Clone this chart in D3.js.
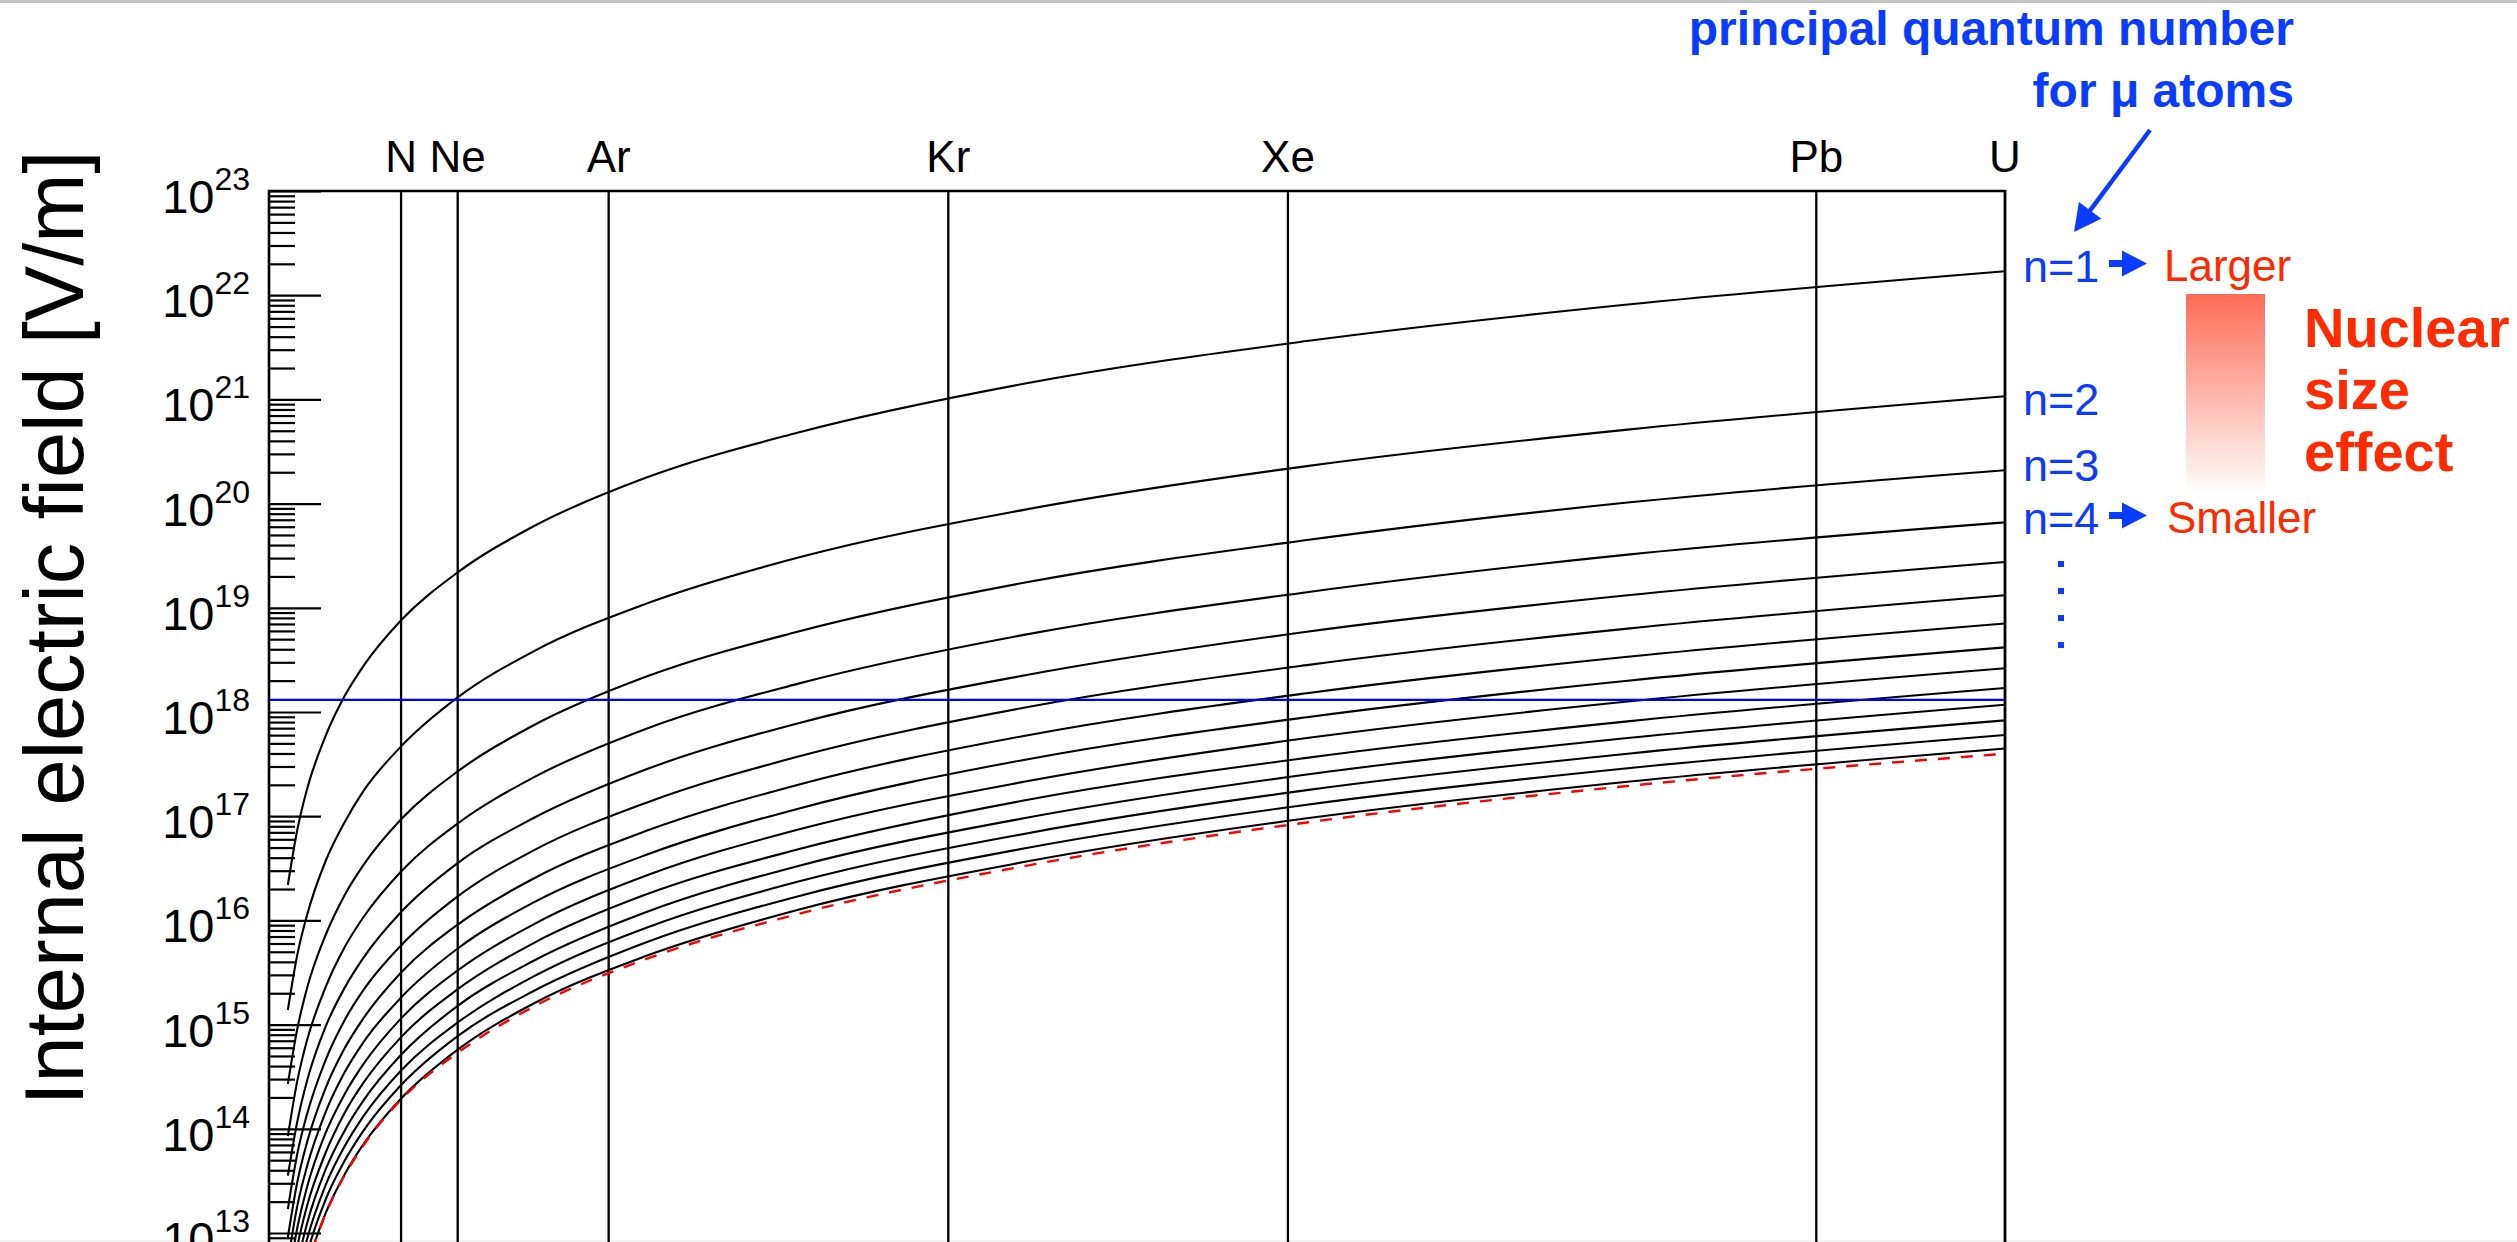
<!DOCTYPE html>
<html>
<head>
<meta charset="utf-8">
<script src="https://cdnjs.cloudflare.com/ajax/libs/d3/7.8.5/d3.min.js"></script>
<style>
  html, body { margin: 0; padding: 0; background: #fff; overflow: hidden; }
  svg { display: block; font-family: 'Liberation Sans', Arial, Helvetica, sans-serif; }
</style>
</head>
<body>
<svg id="chart" width="2517" height="1242"></svg>
<script>
// atomic number samples used for every curve
const zSamples = [1, 1.5, 2, 3, 4, 5, 7, 10, 14, 20, 28, 40, 55, 72, 92];

// log10 of the field [V/m], one row per principal quantum number
const quantumNumbers = [1, 2, 3, 4, 5, 6, 7, 8, 9, 10, 11, 12, 13, 14];
const fieldLog10 = [
  [16.34, 16.87, 17.25, 17.77, 18.15, 18.44, 18.88, 19.34, 19.78, 20.25, 20.68, 21.15, 21.56, 21.91, 22.23],
  [15.14, 15.67, 16.04, 16.57, 16.94, 17.24, 17.67, 18.14, 18.58, 19.04, 19.48, 19.94, 20.36, 20.71, 21.03],
  [14.43, 14.96, 15.34, 15.86, 16.24, 16.53, 16.97, 17.43, 17.87, 18.34, 18.77, 19.24, 19.65, 20.01, 20.32],
  [13.93, 14.46, 14.84, 15.36, 15.74, 16.03, 16.47, 16.93, 17.37, 17.84, 18.27, 18.74, 19.15, 19.51, 19.82],
  [13.55, 14.07, 14.45, 14.98, 15.35, 15.64, 16.08, 16.55, 16.98, 17.45, 17.89, 18.35, 18.77, 19.12, 19.44],
  [13.23, 13.76, 14.13, 14.66, 15.04, 15.33, 15.76, 16.23, 16.67, 17.13, 17.57, 18.04, 18.45, 18.80, 19.12],
  [12.96, 13.49, 13.86, 14.39, 14.77, 15.06, 15.50, 15.96, 16.40, 16.86, 17.30, 17.77, 18.18, 18.53, 18.85],
  [12.73, 13.26, 13.63, 14.16, 14.54, 14.83, 15.26, 15.73, 16.17, 16.63, 17.07, 17.54, 17.95, 18.30, 18.62],
  [12.52, 13.05, 13.43, 13.96, 14.33, 14.62, 15.06, 15.52, 15.96, 16.43, 16.87, 17.33, 17.75, 18.10, 18.42],
  [12.34, 12.87, 13.25, 13.77, 14.15, 14.44, 14.88, 15.34, 15.78, 16.25, 16.68, 17.15, 17.56, 17.91, 18.23],
  [12.18, 12.70, 13.08, 13.61, 13.98, 14.27, 14.71, 15.18, 15.61, 16.08, 16.52, 16.98, 17.40, 17.75, 18.07],
  [12.02, 12.55, 12.93, 13.46, 13.83, 14.12, 14.56, 15.02, 15.46, 15.93, 16.37, 16.83, 17.25, 17.60, 17.92],
  [11.89, 12.41, 12.79, 13.32, 13.69, 13.98, 14.42, 14.89, 15.32, 15.79, 16.23, 16.69, 17.11, 17.46, 17.78],
  [11.76, 12.29, 12.66, 13.19, 13.56, 13.85, 14.29, 14.76, 15.20, 15.66, 16.10, 16.56, 16.98, 17.33, 17.65]
];

// red dashed lower curve
const dashedLog10 = [11.76, 12.29, 12.66, 13.18, 13.55, 13.84, 14.28, 14.73, 15.17, 15.63, 16.06, 16.52, 16.94, 17.29, 17.60];

// blue horizontal reference line [V/m]
const referenceField = 1.31e18;

// element markers
const elementNames = ['N', 'Ne', 'Ar', 'Kr', 'Xe', 'Pb', 'U'];
const elementZ = [7, 10, 18, 36, 54, 82, 92];

// y axis decades
const yExponents = [13, 14, 15, 16, 17, 18, 19, 20, 21, 22, 23];

// right hand labels
const levelLabels = ['n=1', 'n=2', 'n=3', 'n=4'];
const effectLabels = ['Larger', 'Smaller'];
const noteLines = ['principal quantum number', 'for μ atoms'];
const effectTitle = ['Nuclear', 'size', 'effect'];

const BLUE = '#0a3cff';
const RED = '#ff2a00';

const svg = d3.select('#chart');

const plotLeft = 269;
const plotRight = 2005;
const plotTop = 191;
const decade = 104.2;

const x = d3.scaleLinear().domain([0, 92]).range([plotLeft, plotRight]);
const y = d3.scaleLog().domain([1e12, 1e23]).range([plotTop + 11 * decade, plotTop]);
const plotBottom = y.range()[0];

// thin grey strip along the top edge and a faint one at the bottom
svg.append('rect').attr('x', 0).attr('y', 0).attr('width', 2517).attr('height', 3).attr('fill', '#c4c4c4');
svg.append('rect').attr('x', 0).attr('y', 1240).attr('width', 2517).attr('height', 2).attr('fill', '#f3f3f3');

const defs = svg.append('defs');
defs.append('clipPath').attr('id', 'plot-clip')
  .append('rect')
  .attr('x', plotLeft)
  .attr('y', plotTop)
  .attr('width', plotRight - plotLeft)
  .attr('height', plotBottom - plotTop);

// minor + major ticks, drawn inwards
const minorValues = [];
for (let e = 12; e < 23; e++) {
  for (let m = 2; m <= 9; m++) minorValues.push(m * Math.pow(10, e));
}
const majorValues = yExponents.map(e => Math.pow(10, e)).concat([1e12]);

const tickStyle = (g) => {
  g.select('.domain').remove();
  g.selectAll('line').attr('stroke', '#000').attr('stroke-width', 2.2);
};

svg.append('g')
  .attr('transform', `translate(${plotLeft},0)`)
  .call(d3.axisLeft(y).tickValues(minorValues).tickSize(-26).tickFormat(''))
  .call(tickStyle);

svg.append('g')
  .attr('transform', `translate(${plotLeft},0)`)
  .call(d3.axisLeft(y).tickValues(majorValues).tickSize(-52).tickFormat(''))
  .call(tickStyle);

// tick labels 10^n
const tickLabels = svg.append('g').attr('class', 'ytick-labels');
yExponents.forEach((e) => {
  const t = tickLabels.append('text')
    .attr('x', 250)
    .attr('y', y(Math.pow(10, e)) + 22)
    .attr('text-anchor', 'end')
    .attr('fill', '#000');
  t.append('tspan').attr('font-size', 47).text('10');
  t.append('tspan').attr('font-size', 32).attr('dy', -23).text(e);
});

// axis title
svg.append('text')
  .attr('transform', 'translate(83,628) rotate(-90)')
  .attr('text-anchor', 'middle')
  .attr('font-size', 83)
  .attr('fill', '#000')
  .text('Internal electric field [V/m]');

// element vertical lines and labels
const elems = svg.append('g').attr('class', 'elements');
elementNames.forEach((name, i) => {
  const ex = x(elementZ[i]);
  elems.append('line')
    .attr('x1', ex).attr('x2', ex)
    .attr('y1', plotTop).attr('y2', plotBottom)
    .attr('stroke', '#000')
    .attr('stroke-width', 2.3);
  elems.append('text')
    .attr('x', ex)
    .attr('y', 172)
    .attr('text-anchor', 'middle')
    .attr('font-size', 44)
    .attr('fill', '#000')
    .text(name);
});

// curves
const line = d3.line()
  .x(d => x(d[0]))
  .y(d => y(Math.pow(10, d[1])))
  .curve(d3.curveMonotoneX);

const curves = svg.append('g').attr('clip-path', 'url(#plot-clip)');

curves.selectAll('path.level')
  .data(fieldLog10)
  .enter()
  .append('path')
  .attr('class', 'level')
  .attr('d', row => line(row.map((v, i) => [zSamples[i], v])))
  .attr('fill', 'none')
  .attr('stroke', '#000')
  .attr('stroke-width', 2.1);

curves.append('path')
  .attr('d', line(dashedLog10.map((v, i) => [zSamples[i], v])))
  .attr('fill', 'none')
  .attr('stroke', '#ff0000')
  .attr('stroke-width', 2.4)
  .attr('stroke-dasharray', '12 11');

curves.append('line')
  .attr('x1', plotLeft).attr('x2', plotRight)
  .attr('y1', y(referenceField)).attr('y2', y(referenceField))
  .attr('stroke', '#0000ff')
  .attr('stroke-width', 2.3);

// frame (bottom edge is outside the picture)
svg.append('path')
  .attr('d', `M${plotLeft},${plotBottom}V${plotTop}H${plotRight}V${plotBottom}`)
  .attr('fill', 'none')
  .attr('stroke', '#000')
  .attr('stroke-width', 2.6);

// ---- annotations on the right ----
const notes = svg.append('g').attr('class', 'notes');

notes.selectAll('text.note')
  .data(noteLines)
  .enter()
  .append('text')
  .attr('class', 'note')
  .attr('x', 2294)
  .attr('y', (d, i) => 45 + i * 62)
  .attr('text-anchor', 'end')
  .attr('font-size', 48)
  .attr('font-weight', 'bold')
  .attr('fill', BLUE)
  .text(d => d);

// diagonal pointer towards n=1
const tip = [2074, 232];
const tail = [2150, 130];
const len = Math.hypot(tip[0] - tail[0], tip[1] - tail[1]);
const ux = (tip[0] - tail[0]) / len;
const uy = (tip[1] - tail[1]) / len;
const headLen = 27;
const headHalf = 14;
const base = [tip[0] - headLen * ux, tip[1] - headLen * uy];
notes.append('line')
  .attr('x1', tail[0]).attr('y1', tail[1])
  .attr('x2', base[0] + 4 * ux).attr('y2', base[1] + 4 * uy)
  .attr('stroke', BLUE)
  .attr('stroke-width', 4.5);
notes.append('polygon')
  .attr('points', [
    tip,
    [base[0] - headHalf * uy, base[1] + headHalf * ux],
    [base[0] + headHalf * uy, base[1] - headHalf * ux]
  ].map(p => p.join(',')).join(' '))
  .attr('fill', BLUE);

const levelBaselines = [282, 415, 481, 534];
notes.selectAll('text.level')
  .data(levelLabels)
  .enter()
  .append('text')
  .attr('class', 'level')
  .attr('x', 2023)
  .attr('y', (d, i) => levelBaselines[i])
  .attr('font-size', 45)
  .attr('fill', BLUE)
  .text(d => d);

// small arrows n=1 -> Larger, n=4 -> Smaller
[levelBaselines[0], levelBaselines[3]].forEach((b, i) => {
  const cy = b - 18.5;
  notes.append('line')
    .attr('x1', 2109).attr('x2', 2125)
    .attr('y1', cy).attr('y2', cy)
    .attr('stroke', BLUE)
    .attr('stroke-width', 7);
  notes.append('polygon')
    .attr('points', `2122,${cy - 13} 2147,${cy} 2122,${cy + 13}`)
    .attr('fill', BLUE);
  notes.append('text')
    .attr('x', i === 0 ? 2164 : 2167)
    .attr('y', b - 1)
    .attr('font-size', 44)
    .attr('fill', RED)
    .text(effectLabels[i]);
});

// vertical dots under n=4
notes.selectAll('rect.dot')
  .data([564, 591, 618, 645])
  .enter()
  .append('rect')
  .attr('class', 'dot')
  .attr('x', 2058)
  .attr('y', d => d - 3)
  .attr('width', 6)
  .attr('height', 6)
  .attr('fill', BLUE);

// gradient bar
const grad = defs.append('linearGradient')
  .attr('id', 'fade')
  .attr('x1', 0).attr('y1', 0)
  .attr('x2', 0).attr('y2', 1);
grad.append('stop').attr('offset', '0%').attr('stop-color', '#ff6c56');
grad.append('stop').attr('offset', '100%').attr('stop-color', '#ffffff');

notes.append('rect')
  .attr('x', 2186)
  .attr('y', 294)
  .attr('width', 79)
  .attr('height', 200)
  .attr('fill', 'url(#fade)');

notes.selectAll('text.effect')
  .data(effectTitle)
  .enter()
  .append('text')
  .attr('class', 'effect')
  .attr('x', 2304)
  .attr('y', (d, i) => 347 + i * 62)
  .attr('font-size', 56)
  .attr('font-weight', 'bold')
  .attr('fill', RED)
  .text(d => d);
</script>
</body>
</html>
